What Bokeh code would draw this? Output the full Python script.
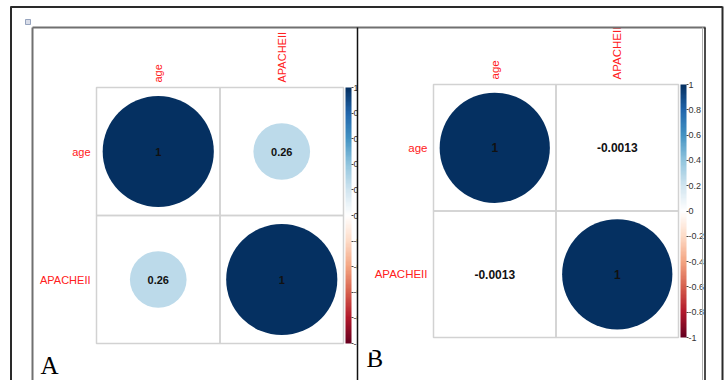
import math

import numpy as np
from bokeh.core.properties import value
from bokeh.embed import file_html
from bokeh.models import (AllLabels, ColorBar, ColumnDataSource, FixedTicker,
                          LinearColorMapper, Range1d)
from bokeh.plotting import figure
from bokeh.resources import INLINE
from bokeh.transform import transform

# ---- data -----------------------------------------------------------------
variables = ["age", "APACHEII"]
corr_a = [[1.0, 0.26],
          [0.26, 1.0]]
corr_b = [[1.0, -0.0013],
          [-0.0013, 1.0]]
bar_ticks = [1, 0.8, 0.6, 0.4, 0.2, 0, -0.2, -0.4, -0.6, -0.8, -1]
bar_tick_labels = ["1", "0.8", "0.6", "0.4", "0.2", "0", "-0.2", "-0.4", "-0.6", "-0.8", "-1"]
panel_letters = ["A", "B"]

# ---- diverging red/blue palette (corrplot style, white centre) -------------
anchors = ["#67001F", "#B2182B", "#D6604D", "#F4A582", "#FDDBC7", "#FFFFFF",
           "#D1E5F0", "#92C5DE", "#4393C3", "#2166AC", "#053061"]
rgb = np.array([[int(c[i:i + 2], 16) for i in (1, 3, 5)] for c in anchors], dtype=float)
pos = np.linspace(0, 1, len(anchors))
grid = np.linspace(0, 1, 200)
palette = ["#%02x%02x%02x" % tuple(int(round(np.interp(g, pos, rgb[:, k]))) for k in range(3))
           for g in grid]
mapper = LinearColorMapper(palette=palette, low=-1, high=1)

W, H = 726, 380
SANS = value("Liberation Sans")
LABEL_RED = "#ff2020"

# panel geometry: (grid left, grid right, grid top, grid bottom) in page pixels
boxes = {"a": (96, 343, 87, 343), "b": (433, 678, 84, 337)}
value_sizes = {"a": "11px", "b": "12px"}
name_sizes = {"a": "11px", "b": "11.5px"}
letter_pos = {"a": (40, 365), "b": (366, 358)}

extra_x, extra_y = {}, {}
for key, (x0, x1, y0, y1) in boxes.items():
    n = len(variables)
    cw, ch = (x1 - x0) / n, (y1 - y0) / n
    extra_x[key] = Range1d(start=(0 - x0) / cw - 0.5, end=(W - x0) / cw - 0.5)
    extra_y[key] = Range1d(start=(H - y0) / ch - 0.5, end=(0 - y0) / ch - 0.5)

p = figure(width=W, height=H, x_range=Range1d(0, W), y_range=Range1d(H, 0),
           x_axis_type=None, y_axis_type=None, output_backend="svg",
           toolbar_location=None, min_border=0, outline_line_color=None,
           background_fill_color="white", border_fill_color="white")
p.extra_x_ranges = extra_x
p.extra_y_ranges = extra_y


def draw_panel(key, corr, letter):
    n = len(variables)
    xs, ys, rs = [], [], []
    for i in range(n):
        for j in range(n):
            xs.append(j)
            ys.append(i)
            rs.append(corr[i][j])
    src = ColumnDataSource(dict(
        x=xs, y=ys, r=rs,
        rad=[0.45 * math.sqrt(abs(v)) for v in rs],
        label=[f"{v:g}" for v in rs],
    ))
    rng = dict(x_range_name=key, y_range_name=key)

    # cell grid
    p.rect("x", "y", 1, 1, source=src, fill_color=None, line_color="#d2d2d2",
           line_width=1.5, **rng)
    # circles: area proportional to |r|, colour from the diverging scale
    p.circle("x", "y", radius="rad", source=src, fill_color=transform("r", mapper),
             line_color=None, **rng)
    p.text("x", "y", text="label", source=src, text_font=SANS, text_font_style="bold",
           text_font_size=value_sizes[key], text_align="center", text_baseline="middle",
           text_color="#111111", **rng)

    names = ColumnDataSource(dict(name=variables, idx=list(range(n)), edge=[-0.5] * n))
    # row names to the left of the grid
    p.text("edge", "idx", text="name", source=names, x_offset=-6, text_align="right",
           text_baseline="middle", text_font=SANS, text_font_size=name_sizes[key],
           text_color=LABEL_RED, **rng)
    # column names above the grid, rotated
    p.text("idx", "edge", text="name", source=names, y_offset=-5, angle=math.pi / 2,
           text_align="left", text_baseline="middle", text_font=SANS,
           text_font_size=name_sizes[key], text_color=LABEL_RED, **rng)

    x0, x1, y0, y1 = boxes[key]
    cb = ColorBar(color_mapper=mapper, orientation="vertical",
                  location=(x1 + 2, H - y1), width=6, height=y1 - y0, padding=0,
                  ticker=FixedTicker(ticks=bar_ticks),
                  major_label_overrides=dict(zip(bar_ticks, bar_tick_labels)),
                  major_label_policy=AllLabels(),
                  major_label_text_font="Liberation Sans",
                  major_label_text_font_size="9px", major_label_text_color="#333333",
                  major_tick_in=0, major_tick_out=2, major_tick_line_color="#444444",
                  label_standoff=0, bar_line_color=None, border_line_color=None,
                  background_fill_color=None)
    p.add_layout(cb)

    lx, ly = letter_pos[key]
    p.text([lx], [ly], text=[letter], text_font=value("Liberation Serif"),
           text_font_size="25px", text_baseline="middle", text_align="left",
           text_color="black")


draw_panel("a", corr_a, panel_letters[0])
draw_panel("b", corr_b, panel_letters[1])

# page decoration: the left panel is cropped at the divider
p.quad(left=[357.5], right=[372], top=[80], bottom=[352], fill_color="white",
       line_color=None, level="overlay")

# outer page frame
p.segment(x0=[10.5, 10, 722], y0=[6, 6.5, 6], x1=[10.5, 722, 722], y1=[380, 6.5, 380],
          line_color="#2a2a2a", line_width=2, level="overlay")
# figure frame and divider
p.segment(x0=[32, 32], y0=[27, 27], x1=[705, 32], y1=[27, 380],
          line_color="#707070", line_width=2, level="overlay")
p.segment(x0=[357, 704.5], y0=[27, 27], x1=[357, 704.5], y1=[380, 380],
          line_color="#111111", line_width=1.5, level="overlay")
p.segment(x0=[702], y0=[27], x1=[702], y1=[380], line_color="#b0b0b0",
          line_width=1, level="overlay")
# small image marker in the corner
p.rect([27.5], [21.5], 5, 5, fill_color="#d8dce8", line_color="#8090b0",
       line_width=0.8, level="overlay")

open("out.html", "w").write(file_html(p, INLINE))
